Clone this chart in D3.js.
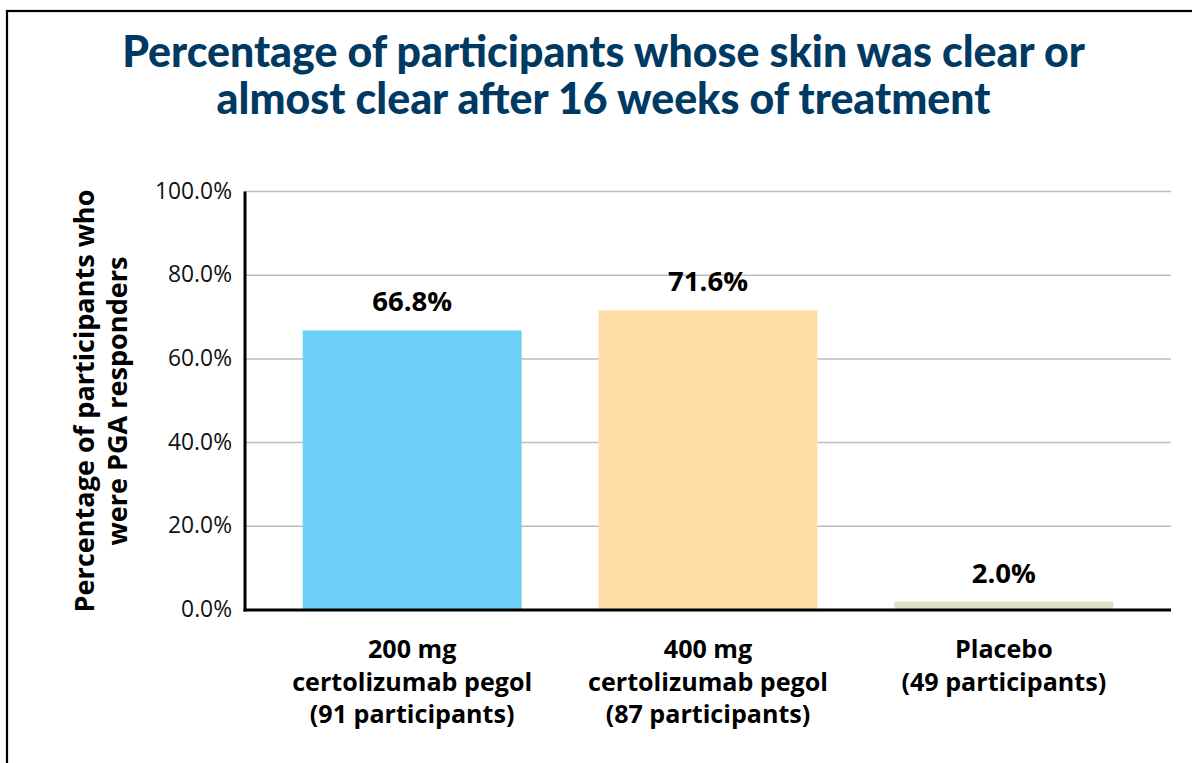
<!DOCTYPE html>
<html>
<head>
<meta charset="utf-8">
<script src="https://cdn.jsdelivr.net/npm/d3@7"></script>
<style>
  html, body { margin: 0; padding: 0; background: #fff; }
  svg { display: block; }
</style>
</head>
<body>
<svg id="chart" width="1192" height="763"></svg>
<script>
// ---- data ----
const titleLines = ["Percentage of participants whose skin was clear or", "almost clear after 16 weeks of treatment"];
const yLabelLines = ["Percentage of participants who", "were PGA responders"];
const categories = ["200 mg|certolizumab pegol|(91 participants)", "400 mg|certolizumab pegol|(87 participants)", "Placebo|(49 participants)"];
const values = [66.8, 71.6, 2.0];
const valueLabels = ["66.8%", "71.6%", "2.0%"];
const barColors = ["#6dcff6", "#fedfa8", "#dde1c9"];
const yTicks = [0, 20, 40, 60, 80, 100];
const yTickLabels = ["0.0%", "20.0%", "40.0%", "60.0%", "80.0%", "100.0%"];

const TFONT = "'Lato', 'Open Sans', sans-serif";
const FONT = "'Open Sans', 'Lato', sans-serif";
const svg = d3.select("#chart");
const W = 1192, H = 763;
const margin = {left: 245, right: 21, top: 191.5, bottom: 153};

// frame border
svg.append("rect").attr("x", 7).attr("y", 11).attr("width", W + 20).attr("height", H + 20)
  .attr("fill", "none").attr("stroke", "#000").attr("stroke-width", 2.2);

// fit helper: font size so text width matches target
function fitSize(text, weight, target, base, fam) {
  const t = svg.append("text").attr("font-family", fam || FONT).attr("font-weight", weight)
    .attr("font-size", base).text(text);
  const w = t.node().getComputedTextLength();
  t.remove();
  return base * target / w;
}

const x = d3.scaleBand().domain(categories).range([margin.left, W - margin.right])
  .paddingInner(0.26).paddingOuter(0.195);
const y = d3.scaleLinear().domain([0, 100]).range([H - margin.bottom, margin.top]);

// gridlines
svg.append("g").selectAll("line").data(yTicks.filter(d => d > 0)).join("line")
  .attr("x1", margin.left).attr("x2", W - margin.right)
  .attr("y1", d => y(d)).attr("y2", d => y(d))
  .attr("stroke", "#bdbdbd").attr("stroke-width", 1.5);

// bars
svg.append("g").selectAll("rect").data(values).join("rect")
  .attr("x", (d, i) => x(categories[i])).attr("width", x.bandwidth())
  .attr("y", d => y(d)).attr("height", d => y(0) - y(d))
  .attr("fill", (d, i) => barColors[i]);

// axes lines
svg.append("line").attr("x1", margin.left).attr("x2", margin.left)
  .attr("y1", y(100)).attr("y2", y(0) + 1.5).attr("stroke", "#000").attr("stroke-width", 3);
svg.append("line").attr("x1", margin.left - 1.5).attr("x2", W - margin.right)
  .attr("y1", y(0)).attr("y2", y(0)).attr("stroke", "#000").attr("stroke-width", 3);

// y tick labels
const tickSize = fitSize("100.0%", 400, 77, 20);
svg.append("g").selectAll("text").data(yTicks).join("text")
  .attr("x", margin.left - 13).attr("y", d => y(d) + 7)
  .attr("text-anchor", "end").attr("font-family", FONT).attr("font-size", tickSize)
  .attr("fill", "#111").text((d, i) => yTickLabels[i]);

// value labels
const valSize = fitSize("66.8%", 700, 80, 24);
svg.append("g").selectAll("text").data(values).join("text")
  .attr("x", (d, i) => x(categories[i]) + x.bandwidth() / 2)
  .attr("y", d => y(d) - 19)
  .attr("text-anchor", "middle").attr("font-family", FONT).attr("font-weight", 700)
  .attr("font-size", valSize).attr("fill", "#000").text((d, i) => valueLabels[i]);

// x category labels (one text element per line)
const catSize = fitSize("certolizumab pegol", 700, 240, 22);
categories.forEach(c => {
  c.split("|").forEach((ln, j) => {
    svg.append("text").attr("text-anchor", "middle").attr("font-family", FONT)
      .attr("font-weight", 700).attr("font-size", catSize).attr("fill", "#000")
      .attr("x", x(c) + x.bandwidth() / 2).attr("y", 658 + j * 32.5).text(ln);
  });
});

// title
const titleSize = fitSize(titleLines[0], 900, 963, 38, TFONT);
titleLines.forEach((ln, i) => {
  svg.append("text").attr("x", 603.5).attr("y", 67 + i * 47).attr("text-anchor", "middle")
    .attr("font-family", TFONT).attr("font-weight", 900).attr("font-size", titleSize)
    .attr("fill", "#003a63").text(ln);
});

// y axis label
const ylSize = fitSize(yLabelLines[0], 700, 423, 24);
yLabelLines.forEach((ln, i) => {
  svg.append("text").attr("transform", `translate(${94 + i * 33},401) rotate(-90)`)
    .attr("text-anchor", "middle").attr("font-family", FONT).attr("font-weight", 700)
    .attr("font-size", ylSize).attr("fill", "#000").text(ln);
});
</script>
</body>
</html>
